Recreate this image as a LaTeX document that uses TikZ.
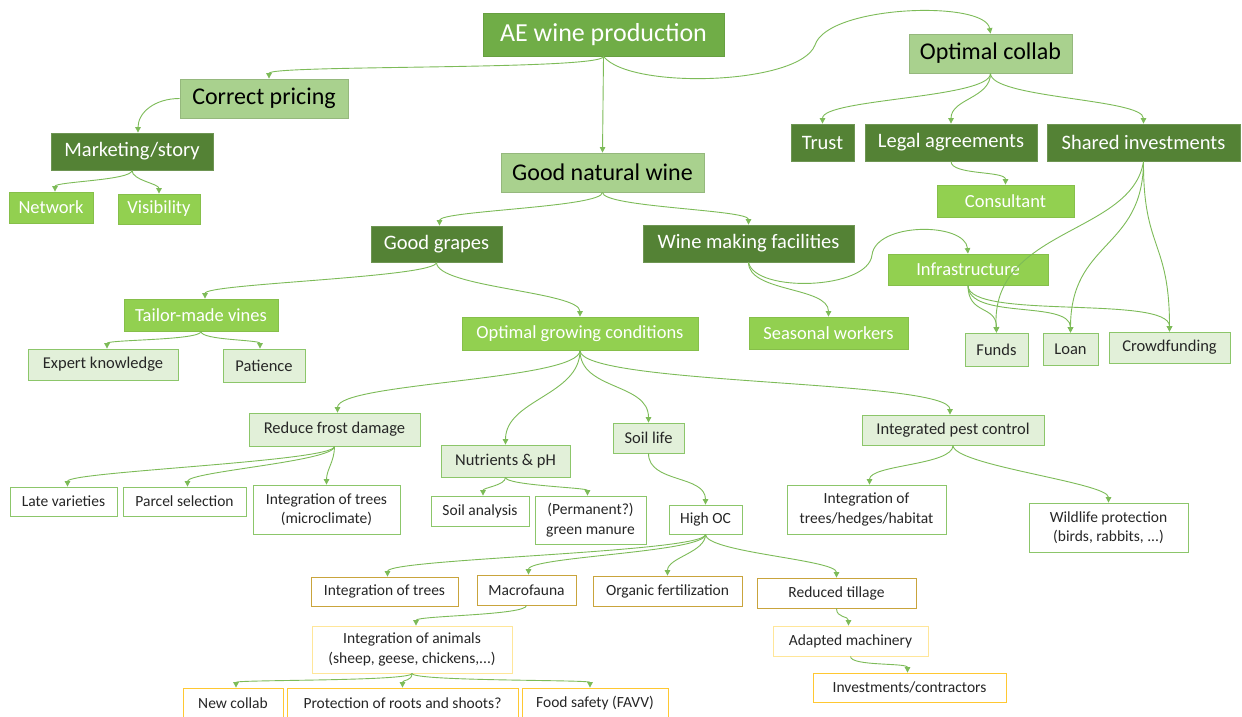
\documentclass[tikz,border=0pt]{standalone}
\usepackage{fontspec}
\setmainfont{Carlito}
\usetikzlibrary{arrows.meta}
\definecolor{dkgreen}{HTML}{548235}
\definecolor{midgreen}{HTML}{70AD47}
\definecolor{ltgreen}{HTML}{A9D18E}
\definecolor{brgreen}{HTML}{92D050}
\definecolor{pagreen}{HTML}{E2F0D9}
\definecolor{linegreen}{HTML}{7DBB58}
\definecolor{boxline}{HTML}{8CC66A}
\definecolor{goldline}{HTML}{C9A43C}
\definecolor{paleyel}{HTML}{FFE699}
\definecolor{yelline}{HTML}{FFC832}
\definecolor{txtdark}{HTML}{262626}
\begin{document}
\begin{tikzpicture}[x=1pt,y=-1pt,
  base/.style={rectangle, inner sep=0pt, align=center, line width=0.8pt},
  sz/.style 2 args={minimum width=#1pt, minimum height=#2pt},
  toplvl/.style={base, fill=midgreen, draw=midgreen!92!black, text=white, font=\fontsize{26}{30}\selectfont},
  light/.style={base, fill=ltgreen, draw=ltgreen!88!black, text=black, font=\fontsize{24}{28}\selectfont},
  dark/.style={base, fill=dkgreen, draw=dkgreen!85!white, text=white, font=\fontsize{20.5}{24}\selectfont},
  bright/.style={base, fill=brgreen, draw=brgreen!92!black, text=white, font=\fontsize{18.5}{22}\selectfont},
  pale/.style={base, fill=pagreen, draw=boxline, text=txtdark, font=\fontsize{16.5}{20}\selectfont},
  plain/.style={base, fill=white, draw=boxline, text=txtdark, font=\fontsize{15.5}{19.5}\selectfont},
  gold/.style={base, fill=white, draw=goldline, text=txtdark, font=\fontsize{15.5}{19.5}\selectfont},
  paley/.style={base, fill=white, draw=paleyel, text=txtdark, font=\fontsize{15.5}{20.5}\selectfont},
  yel/.style={base, fill=white, draw=yelline, text=txtdark, font=\fontsize{15.5}{19.5}\selectfont},
  conn/.style={draw=linegreen, line width=0.9pt, -{Triangle[length=5.5pt,width=5.5pt]}}
]
\fill[white] (0,0) rectangle (1242,717);
\useasboundingbox (0,0) rectangle (1242,717);

% ---- nodes ----
\node[toplvl, sz={241}{43}] (ae) at (603.5,34.5) {AE wine production};
\node[light, sz={163}{39}] (oc) at (990.5,53.5) {Optimal collab};
\node[light, sz={168}{39}] (cp) at (264,98.5) {Correct pricing};
\node[dark, sz={162}{37}] (mk) at (132,151.5) {Marketing/story};
\node[bright, sz={84}{31}] (net) at (51,207.5) {Network};
\node[bright, sz={82}{30}] (vis) at (159,209) {Visibility};
\node[light, sz={203}{39}] (gnw) at (602.5,172.5) {Good natural wine};
\node[dark, sz={63}{37}] (trust) at (822.5,142.5) {Trust};
\node[dark, sz={172}{37}] (legal) at (951,142.5) {Legal agreements};
\node[dark, sz={193}{37}] (shared) at (1143.5,142.5) {Shared investments};
\node[bright, sz={137}{32}] (cons) at (1005.5,201) {Consultant};
\node[dark, sz={131}{36}] (gg) at (436.5,244) {Good grapes};
\node[dark, sz={211}{37}] (wmf) at (748.5,243.5) {Wine making facilities};
\node[bright, sz={154}{32}] (tmv) at (201,315) {Tailor-made vines};
\node[bright, sz={236}{33}] (ogc) at (580,333.5) {Optimal growing conditions};
\node[bright, sz={159}{32}] (sw) at (828.5,333) {Seasonal workers};
\node[bright, sz={160}{31}] (infra) at (968,269.5) {Infrastructure};
\node[pale, sz={63}{33}] (funds) at (996.5,349.5) {Funds};
\node[pale, sz={55}{32}] (loan) at (1070.5,349) {Loan};
\node[pale, sz={121}{31}] (crowd) at (1169.5,347.5) {Crowdfunding};
\node[pale, sz={150}{31}] (ek) at (103,364.5) {Expert knowledge};
\node[pale, sz={82}{33}] (pat) at (264,365.5) {Patience};
\node[pale, sz={171}{33}] (rfd) at (334.5,429.5) {Reduce frost damage};
\node[plain, sz={107}{29}] (late) at (63.5,501.5) {Late varieties};
\node[plain, sz={123}{29}] (parcel) at (184.5,501.5) {Parcel selection};
\node[plain, sz={147}{49}] (iotm) at (326.5,509.5) {Integration of trees\\(microclimate)};
\node[pale, sz={129}{32}] (nut) at (505.5,461) {Nutrients \& pH};
\node[pale, sz={71}{30}] (sl) at (648.5,438) {Soil life};
\node[plain, sz={98}{30}] (sa) at (480,511) {Soil analysis};
\node[plain, sz={111}{48}] (pgm) at (590.5,520) {(Permanent?)\\green manure};
\node[plain, sz={73}{29}] (hoc) at (705.5,519.5) {High OC};
\node[pale, sz={182}{30}] (ipc) at (953,430) {Integrated pest control};
\node[plain, sz={159}{49}] (ioth) at (866.5,509.5) {Integration of\\trees/hedges/habitat};
\node[plain, sz={159}{49}] (wp) at (1108.5,527.5) {Wildlife protection\\(birds, rabbits, ...)};
\node[gold, sz={147}{29}] (iot) at (384.5,591.5) {Integration of trees};
\node[gold, sz={99}{30}] (macro) at (526.5,590) {Macrofauna};
\node[gold, sz={149}{30}] (ofert) at (667.5,591) {Organic fertilization};
\node[gold, sz={159}{30}] (rt) at (836.5,593) {Reduced tillage};
\node[paley, sz={200}{47}] (ioa) at (412,649.5) {Integration of animals\\(sheep, geese, chickens,...)};
\node[paley, sz={155}{30}] (am) at (850.5,641) {Adapted machinery};
\node[yel, sz={193}{29}] (inv) at (909.5,687.5) {Investments/contractors};
\node[yel, sz={100}{31}] (nc) at (233,703.5) {New collab};
\node[yel, sz={231}{31}] (prot) at (402.5,703.5) {Protection of roots and shoots?};
\node[yel, sz={146}{31}] (food) at (595,703.5) {Food safety (FAVV)};

% ---- connectors ----
\draw[conn] (ae.south) -- (gnw.north);
\draw[conn] (ae.south) .. controls +(0,14) and +(0,-14) .. ([xshift=5pt]cp.north);
\draw[conn] (ae.south) .. controls (630,90) and (800,85) .. (815,45)
                       .. controls (828,5) and (985,0) .. (oc.north);
\draw[conn] (cp.west) .. controls +(-25,0) and +(0,-20) .. ([xshift=6pt]mk.north);
\draw[conn] (mk.south) .. controls +(0,10) and +(0,-10) .. ([xshift=4pt]net.north);
\draw[conn] (mk.south) .. controls +(0,10) and +(0,-10) .. (vis.north);
\draw[conn] (gnw.south) .. controls +(0,15) and +(0,-15) .. ([xshift=3pt]gg.north);
\draw[conn] (gnw.south) .. controls +(0,15) and +(0,-15) .. (wmf.north);
\draw[conn] (oc.south) .. controls +(0,25) and +(0,-25) .. (trust.north);
\draw[conn] (oc.south) .. controls +(0,25) and +(0,-25) .. (legal.north);
\draw[conn] (oc.south) .. controls +(0,25) and +(0,-25) .. (shared.north);
\draw[conn] (legal.south) .. controls +(0,14) and +(0,-14) .. (cons.north);
\draw[conn] (shared.south) .. controls (1132,235) and (990,228) .. (funds.north);
\draw[conn] (shared.south) .. controls (1143,250) and (1070.5,240) .. (loan.north);
\draw[conn] (shared.south) .. controls (1143,250) and (1169.5,240) .. (crowd.north);
\draw[conn] (infra.south) .. controls +(0,30) and +(0,-28) .. (funds.north);
\draw[conn] (infra.south) .. controls +(0,35) and +(0,-33) .. (loan.north);
\draw[conn] (infra.south) .. controls +(0,35) and +(0,-37) .. (crowd.north);
\draw[conn] (wmf.south) .. controls +(0,30) and +(0,-30) .. (sw.north);
\draw[conn] (wmf.south) .. controls (755,293) and (868,290) .. (872,255)
                        .. controls (876,222) and (965,222) .. (infra.north);
\draw[conn] (gg.south) .. controls +(0,15) and +(0,-15) .. ([xshift=4pt]tmv.north);
\draw[conn] (gg.south) .. controls +(0,25) and +(0,-25) .. (ogc.north);
\draw[conn] (tmv.south) .. controls +(0,9) and +(0,-9) .. ([xshift=4pt]ek.north);
\draw[conn] (tmv.south) .. controls +(0,9) and +(0,-9) .. ([xshift=-4pt]pat.north);
\draw[conn] (ogc.south) .. controls +(0,30) and +(0,-30) .. ([xshift=3pt]rfd.north);
\draw[conn] (ogc.south) .. controls +(0,45) and +(0,-45) .. (nut.north);
\draw[conn] (ogc.south) .. controls +(0,40) and +(0,-40) .. (sl.north);
\draw[conn] (ogc.south) .. controls +(0,35) and +(0,-35) .. ([xshift=-3pt]ipc.north);
\draw[conn] (rfd.south) .. controls +(0,15) and +(0,-15) .. ([xshift=4pt]late.north);
\draw[conn] (rfd.south) .. controls +(0,15) and +(0,-15) .. ([xshift=3pt]parcel.north);
\draw[conn] (rfd.south) .. controls +(0,15) and +(0,-15) .. (iotm.north);
\draw[conn] (nut.south) .. controls +(0,8) and +(0,-8) .. ([xshift=3pt]sa.north);
\draw[conn] (nut.south) .. controls +(0,8) and +(0,-8) .. ([xshift=-3pt]pgm.north);
\draw[conn] (sl.south) .. controls +(0,30) and +(0,-30) .. (hoc.north);
\draw[conn] (ipc.south) .. controls +(0,20) and +(0,-20) .. ([xshift=3pt]ioth.north);
\draw[conn] (ipc.south) .. controls +(0,20) and +(0,-20) .. (wp.north);
\draw[conn] (hoc.south) .. controls +(0,18) and +(0,-18) .. ([xshift=3pt]iot.north);
\draw[conn] (hoc.south) .. controls +(0,18) and +(0,-18) .. ([xshift=2pt]macro.north);
\draw[conn] (hoc.south) .. controls +(0,18) and +(0,-18) .. (ofert.north);
\draw[conn] (hoc.south) .. controls +(0,18) and +(0,-18) .. (rt.north);
\draw[conn] (macro.south) .. controls +(0,10) and +(0,-10) .. ([xshift=4pt]ioa.north);
\draw[conn] (ioa.south) .. controls +(0,8) and +(0,-8) .. ([xshift=3pt]nc.north);
\draw[conn] (ioa.south) .. controls +(0,8) and +(0,-8) .. (prot.north);
\draw[conn] (ioa.south) .. controls +(0,8) and +(0,-8) .. ([xshift=-5pt]food.north);
\draw[conn] (rt.south) .. controls +(0,10) and +(0,-10) .. ([xshift=-2pt]am.north);
\draw[conn] (am.south) .. controls +(0,10) and +(0,-10) .. ([xshift=-2pt]inv.north);
\end{tikzpicture}
\end{document}
